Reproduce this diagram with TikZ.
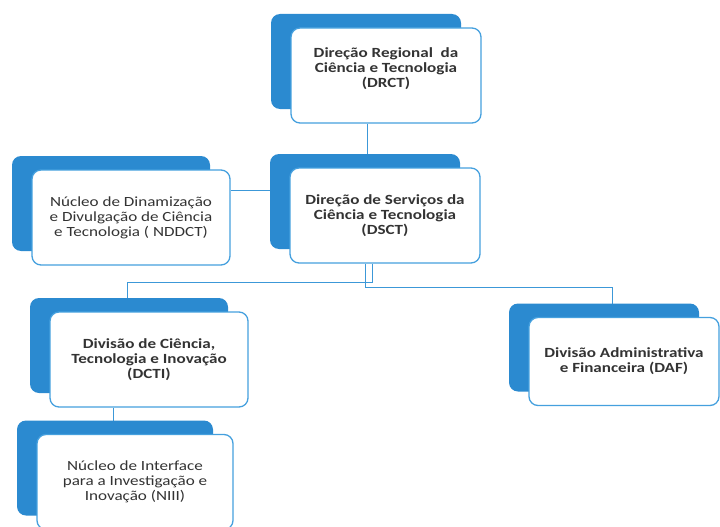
\documentclass[tikz,border=0pt]{standalone}
\usepackage{fontspec}
\setmainfont{Carlito}[FakeStretch=1.22]
\usetikzlibrary{positioning,shadows,backgrounds}
\definecolor{BackBlue}{HTML}{2B8AD0}
\definecolor{EdgeBlue}{HTML}{45A0DE}
\definecolor{LineBlue}{HTML}{3C98D8}
\definecolor{TextGray}{HTML}{333333}

\begin{document}
\begin{tikzpicture}[
  unit/.style={rounded corners=9pt,draw=EdgeBlue,line width=1.3pt,fill=white,
    minimum width=190pt,minimum height=95pt,align=center,text=TextGray,
    font=\fontsize{14}{15}\selectfont,
    copy shadow={shadow xshift=-20pt,shadow yshift=14pt,fill=BackBlue,draw=none}},
  unitb/.style={unit,font=\fontsize{14}{15}\selectfont\bfseries},
  link/.style={draw=LineBlue,line width=1pt}
]
\useasboundingbox (0pt,0pt) rectangle (720pt,-527pt);
\node[unitb] (drct) at (386pt,-75.5pt) {Direção Regional\ \ da\\Ciência e Tecnologia\\(DRCT)\\~};
\node[unitb] (dsct) at (385pt,-215.5pt) {Direção de Serviços da\\Ciência e Tecnologia\\(DSCT)};
\node[unit,minimum width=198pt] (nddct) at (131pt,-217.5pt) {Núcleo de Dinamização\\e Divulgação de Ciência\\e Tecnologia ( NDDCT)};
\node[unitb,minimum width=198pt] (dcti) at (149pt,-359.5pt) {Divisão de Ciência,\\Tecnologia e Inovação\\(DCTI)};
\node[unitb,minimum height=88pt] (daf) at (624pt,-361.5pt) {Divisão Administrativa\\e Financeira (DAF)};
\node[unit,minimum width=196pt] (niii) at (135pt,-482pt) {Núcleo de Interface\\para a Investigação e\\Inovação (NIII)};

\begin{scope}[on background layer]
\draw[link] ([xshift=-19pt]drct.south) -- ([xshift=-18pt]dsct.north);
\draw[link] ([yshift=27pt]nddct.east) -- ([yshift=25pt]dsct.west);
\draw[link] ([xshift=-13pt]dsct.south) |- ([xshift=-22pt,yshift=29pt]dcti.north) -- ([xshift=-22pt]dcti.north);
\draw[link] ([xshift=-20pt]dsct.south) |- ([xshift=-12pt,yshift=29pt]daf.north) -- ([xshift=-12pt]daf.north);
\draw[link] ([xshift=-36pt]dcti.south) -- ([xshift=-22pt]niii.north);
\end{scope}
\end{tikzpicture}
\end{document}
